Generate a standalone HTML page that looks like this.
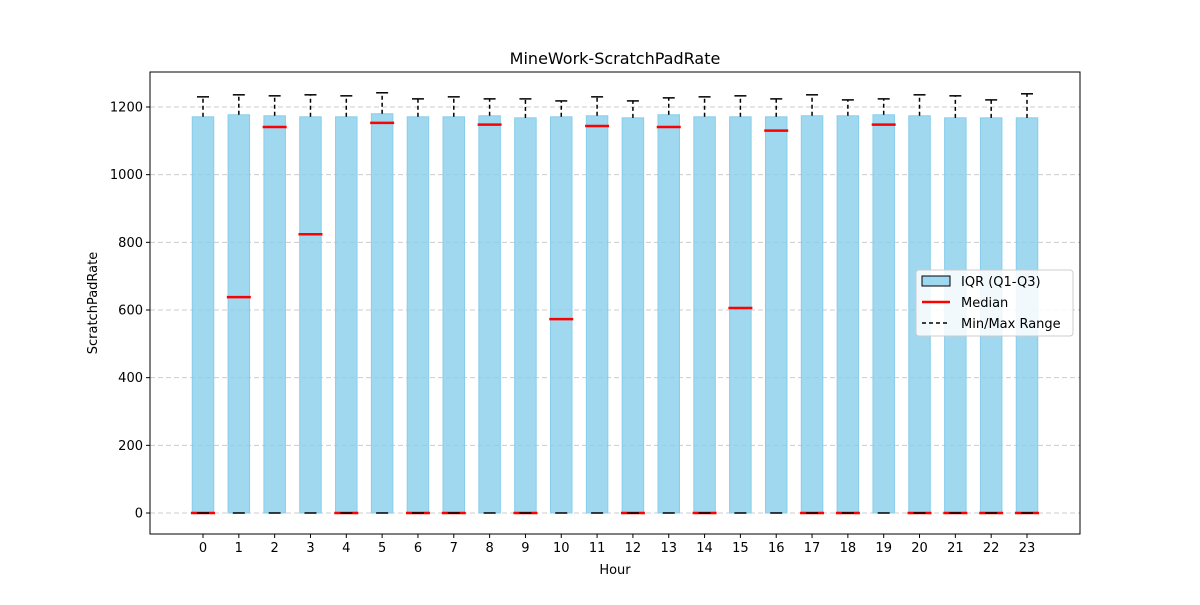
<!DOCTYPE html>
<html><head><meta charset="utf-8"><style>
body{margin:0;background:#fff;font-family:"Liberation Sans","DejaVu Sans",sans-serif}
</style></head><body>
<svg id="c" width="1200" height="600" xmlns="http://www.w3.org/2000/svg" font-family="DejaVu Sans, Liberation Sans, sans-serif"></svg>
<script>
const hours=[0,1,2,3,4,5,6,7,8,9,10,11,12,13,14,15,16,17,18,19,20,21,22,23];
const q1=[0,0,0,0,0,0,0,0,0,0,0,0,0,0,0,0,0,0,0,0,0,0,0,0];
const q3=[1171,1177,1174,1171,1171,1180,1171,1171,1174,1168,1171,1174,1168,1177,1171,1171,1171,1174,1174,1177,1174,1168,1168,1168];
const medians=[0,638,1141,824,0,1153,0,0,1148,0,573,1144,0,1141,0,606,1130,0,0,1148,0,0,0,0];
const mins=[0,0,0,0,0,0,0,0,0,0,0,0,0,0,0,0,0,0,0,0,0,0,0,0];
const maxs=[1230,1236,1233,1236,1233,1242,1224,1230,1224,1224,1218,1230,1218,1227,1230,1233,1224,1236,1221,1224,1236,1233,1221,1239];
const yTicks=[0,200,400,600,800,1000,1200];
const svg=document.getElementById('c');const NS='http://www.w3.org/2000/svg';
function mk(t,a,p){const e=document.createElementNS(NS,t);for(const k in a)e.setAttribute(k,a[k]);(p||svg).appendChild(e);return e;}
const L=150,R=1080,T=72,B=534;
const X=h=>203+(h-hours[0])*(1027-203)/23;
const Y=v=>513-v*406/1200;
const bw=21.5;
// grid
yTicks.forEach(v=>{const g=mk('line',{x1:L,x2:R,y1:Y(v),y2:Y(v),stroke:'#ccc','stroke-dasharray':'5,3','stroke-width':1});
});
hours.forEach((h,i)=>{
 const x=X(h);
 const r=mk('rect',{x:x-bw/2,y:Y(q3[i]),width:bw,height:Y(q1[i])-Y(q3[i]),fill:'#87ceeb','fill-opacity':0.8,stroke:'#87ceeb','stroke-width':1});
 
 const w=mk('line',{x1:x,x2:x,y1:Y(q3[i]),y2:Y(maxs[i]),stroke:'#000','stroke-width':1.5,'stroke-dasharray':'4,3'});
 
 const c1=mk('line',{x1:x-6,x2:x+6,y1:Y(maxs[i]),y2:Y(maxs[i]),stroke:'#000','stroke-width':1.5});
 
 const m=mk('line',{x1:x-12,x2:x+12,y1:Y(medians[i]),y2:Y(medians[i]),stroke:'#f00','stroke-width':2.5});
 
 const c2=mk('line',{x1:x-6,x2:x+6,y1:Y(mins[i]),y2:Y(mins[i]),stroke:'#000','stroke-width':1.5});
 
 const tk=mk('line',{x1:x,x2:x,y1:B,y2:B+4,stroke:'#000'});
 
 const tl=mk('text',{x:x,y:B+18,'font-size':13,'text-anchor':'middle'});tl.textContent=h;
 
});
yTicks.forEach(v=>{
 const tk=mk('line',{x1:L-4,x2:L,y1:Y(v),y2:Y(v),stroke:'#000'});
 
 const tl=mk('text',{x:L-7,y:Y(v)+4.5,'font-size':13,'text-anchor':'end'});tl.textContent=v;
 
});
const ax=mk('rect',{x:L,y:T,width:R-L,height:B-T,fill:'none',stroke:'#000','stroke-width':1});

let t=mk('text',{x:615,y:64,'font-size':16,'text-anchor':'middle'});t.textContent='MineWork-ScratchPadRate';

t=mk('text',{x:615,y:574,'font-size':13,'text-anchor':'middle'});t.textContent='Hour';

t=mk('text',{x:97,y:303,'font-size':13,'text-anchor':'middle',transform:'rotate(-90 97 303)'});t.textContent='ScratchPadRate';

// legend
const lg=mk('g',{});
mk('rect',{x:916,y:270,width:157,height:66,rx:3,fill:'#fff','fill-opacity':0.85,stroke:'#ccc'},lg);
mk('rect',{x:922,y:276,width:28,height:10,fill:'#87ceeb','fill-opacity':0.8,stroke:'#000','stroke-width':1},lg);
mk('line',{x1:922,x2:950,y1:302,y2:302,stroke:'#f00','stroke-width':2.5},lg);
mk('line',{x1:922,x2:950,y1:323,y2:323,stroke:'#000','stroke-width':1.5,'stroke-dasharray':'4,3'},lg);
[['IQR (Q1-Q3)',286],['Median',307],['Min/Max Range',328]].forEach(([s,y])=>{const e=mk('text',{x:961,y:y,'font-size':13},lg);e.textContent=s;
});
</script>
</body></html>
